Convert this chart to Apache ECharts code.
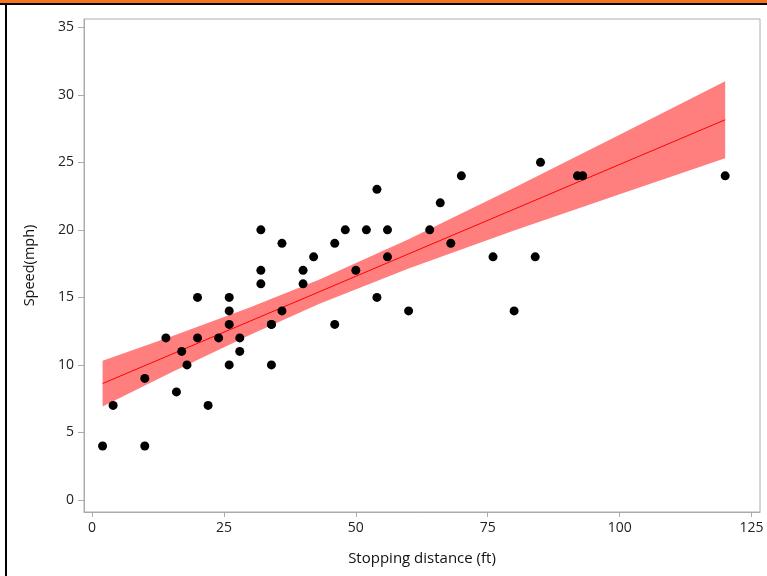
<!DOCTYPE html>
<html>
<head>
<meta charset="utf-8">
<script src="https://cdn.jsdelivr.net/npm/echarts@6/dist/echarts.min.js"></script>
<style>
  html, body { margin: 0; padding: 0; background: #fff; }
  #chart { width: 767px; height: 576px; }
</style>
</head>
<body>
<div id="chart"></div>
<script>
// Stopping distance (ft) and speed (mph) for 50 cars
const distance = [2, 10, 4, 22, 16, 10, 18, 26, 34, 17, 28, 14, 20, 24, 28, 26, 34, 34, 46, 26,
  36, 60, 80, 20, 26, 54, 32, 40, 32, 40, 50, 42, 56, 76, 84, 36, 46, 68, 32, 48,
  52, 56, 64, 66, 54, 70, 92, 93, 120, 85];
const speed = [4, 4, 7, 7, 8, 9, 10, 10, 10, 11, 11, 12, 12, 12, 12, 13, 13, 13, 13, 14,
  14, 14, 14, 15, 15, 15, 16, 16, 17, 17, 17, 18, 18, 18, 18, 19, 19, 19, 20, 20,
  20, 20, 20, 22, 23, 24, 24, 24, 24, 25];

// Fitted line with 95% confidence limits for the mean
const fitX = [2, 15, 30, 43, 60, 80, 100, 120];
const fitY = [8.62, 10.77, 13.25, 15.40, 18.22, 21.53, 24.84, 28.15];
const lowerCL = [6.92, 9.44, 12.24, 14.51, 17.14, 19.95, 22.64, 25.30];
const upperCL = [10.31, 12.10, 14.26, 16.30, 19.30, 23.11, 27.04, 31.01];

const xTicks = [0, 25, 50, 75, 100, 125];
const yTicks = [0, 5, 10, 15, 20, 25, 30, 35];

const FONT = "'Open Sans', 'Noto Sans', sans-serif";
const AXIS_GREY = '#a8acb0';

const chart = echarts.init(document.getElementById('chart'), null, { renderer: 'canvas' });

const points = distance.map((d, i) => [d, speed[i]]);
const fitLine = fitX.map((x, i) => [x, fitY[i]]);

chart.setOption({
  animation: false,
  backgroundColor: '#ffffff',
  graphic: [
    { type: 'rect', shape: { x: 0, y: 0, width: 767, height: 3 }, style: { fill: '#f47321' }, silent: true },
    { type: 'rect', shape: { x: 0, y: 3, width: 767, height: 2 }, style: { fill: '#000000' }, silent: true },
    { type: 'rect', shape: { x: 5, y: 3, width: 2, height: 573 }, style: { fill: '#000000' }, silent: true }
  ],
  grid: {
    left: 84, top: 19, width: 676, height: 493,
    show: true, borderColor: AXIS_GREY, borderWidth: 1, backgroundColor: 'transparent'
  },
  xAxis: {
    type: 'value', min: -1.52, max: 126.6,
    name: 'Stopping distance (ft)', nameLocation: 'middle', nameGap: 39,
    nameTextStyle: { fontFamily: FONT, fontSize: 15, color: '#111' },
    axisLine: { show: true, onZero: false, lineStyle: { color: AXIS_GREY } },
    axisTick: { show: true, length: 5, lineStyle: { color: AXIS_GREY }, customValues: xTicks },
    axisLabel: { customValues: xTicks, fontFamily: FONT, fontSize: 14, color: '#222', margin: 9 },
    splitLine: { show: false }
  },
  yAxis: {
    type: 'value', min: -0.89, max: 35.61,
    name: 'Speed(mph)', nameLocation: 'middle', nameGap: 47, nameRotate: 90,
    nameTextStyle: { fontFamily: FONT, fontSize: 14.5, color: '#111' },
    axisLine: { show: true, onZero: false, lineStyle: { color: AXIS_GREY } },
    axisTick: { show: true, length: 6, lineStyle: { color: AXIS_GREY }, customValues: yTicks },
    axisLabel: { customValues: yTicks, fontFamily: FONT, fontSize: 14, color: '#222', margin: 10 },
    splitLine: { show: false }
  },
  series: [
    {
      // confidence band drawn as one polygon through the axis scales
      type: 'custom',
      data: [0],
      silent: true,
      z: 1,
      renderItem: function (params, api) {
        const pts = [];
        for (let i = 0; i < fitX.length; i++) pts.push(api.coord([fitX[i], upperCL[i]]));
        for (let i = fitX.length - 1; i >= 0; i--) pts.push(api.coord([fitX[i], lowerCL[i]]));
        return {
          type: 'polygon',
          shape: { points: pts },
          style: { fill: 'rgba(255, 0, 0, 0.5)', stroke: 'none' }
        };
      }
    },
    {
      type: 'line',
      data: fitLine,
      smooth: false,
      showSymbol: false,
      z: 2,
      lineStyle: { color: '#ff0000', width: 1 }
    },
    {
      type: 'scatter',
      data: points,
      symbol: 'circle',
      symbolSize: 9,
      z: 3,
      itemStyle: { color: '#000000', opacity: 1 }
    }
  ]
});
</script>
</body>
</html>
